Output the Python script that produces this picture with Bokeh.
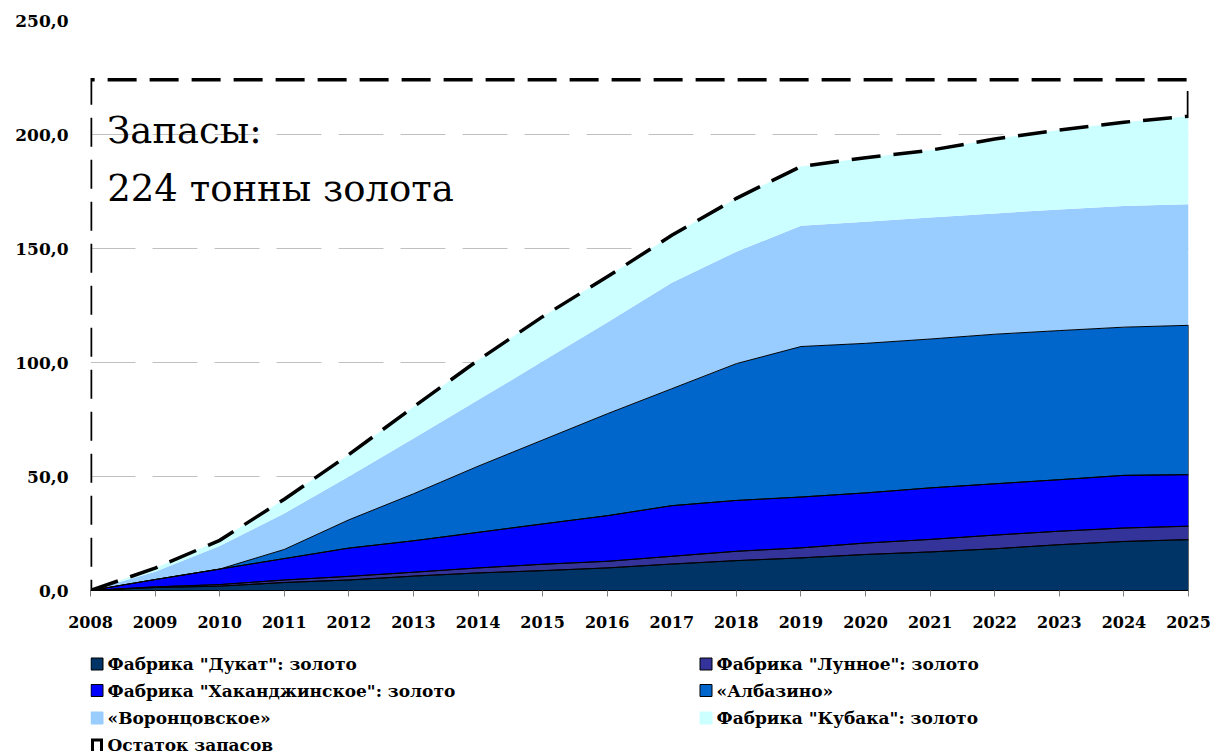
import numpy as np
from bokeh.plotting import figure
from bokeh.layouts import column
from bokeh.models import Range1d, FixedTicker, Label
from bokeh.core.properties import value
from bokeh.embed import file_html
from bokeh.resources import INLINE

# ---------------- data ----------------
years = list(range(2008, 2026))
dukat = [0, 1.3, 1.9, 3.5, 4.6, 6.3, 7.7, 8.7, 9.9, 11.6, 13.1, 14.3, 15.8, 16.9, 18.3, 20.1, 21.5, 22.3]
lunnoe = [0, 0.3, 0.7, 1.1, 1.6, 1.7, 2.2, 2.8, 2.9, 3.4, 4.1, 4.4, 5.0, 5.5, 6.0, 5.9, 5.9, 5.9]
hakanj = [0, 3.2, 6.8, 9.4, 12.4, 13.8, 15.6, 17.7, 20.0, 22.2, 22.3, 22.3, 22.0, 22.6, 22.5, 22.6, 23.1, 22.6]
albazino = [0, 0, 0, 4.0, 12.4, 20.6, 29.0, 36.8, 44.7, 51.3, 60.0, 66.0, 65.6, 65.3, 65.6, 65.4, 65.0, 65.5]
voronts = [0, 3.4, 10.1, 15.8, 19.0, 24.3, 29.0, 34.5, 40.0, 46.5, 49.1, 53.0, 53.3, 53.3, 53.0, 53.1, 53.1, 53.1]
kubaka = [0, 1.6, 2.5, 6.2, 9.6, 13.8, 17.5, 19.6, 20.1, 20.8, 23.4, 26.0, 28.1, 29.5, 32.6, 34.9, 36.8, 38.6]
reserves_total = 224

series_names = ['Фабрика "Дукат": золото', 'Фабрика "Лунное": золото',
                'Фабрика "Хаканджинское": золото', '«Албазино»',
                '«Воронцовское»', 'Фабрика "Кубака": золото']
remaining_name = 'Остаток запасов'
series_values = [dukat, lunnoe, hakanj, albazino, voronts, kubaka]
series_colors = ["#003366", "#333399", "#0000FF", "#0066CC", "#99CCFF", "#CCFFFF"]
series_border = [True, True, True, True, False, False]

y_ticks = [0, 50, 100, 150, 200, 250]
y_tick_labels = ["0,0", "50,0", "100,0", "150,0", "200,0", "250,0"]
title_lines = ["Запасы:", "224 тонны золота"]

SERIF = "DejaVu Serif"
BL, BR = 90, 24          # left / right borders shared by both figures
W = 1212

# ---------------- main chart ----------------
p = figure(width=W, height=640, output_backend="svg", toolbar_location=None,
           x_range=Range1d(years[0], years[-1]), y_range=Range1d(0, 250),
           min_border_left=BL, min_border_right=BR, min_border_top=20, min_border_bottom=50)
p.outline_line_color = None
p.background_fill_color = "white"
p.border_fill_color = "white"

cum = np.zeros(len(years))
bounds = []
for vals in series_values:
    bottom = cum.copy()
    cum = cum + np.array(vals, dtype=float)
    bounds.append((bottom, cum.copy()))

xs_poly = list(years) + list(years[::-1])
for (bottom, top), col in zip(bounds, series_colors):
    p.patch(xs_poly, list(top) + list(bottom[::-1]), fill_color=col, line_color=None)
for (bottom, top), has_border in zip(bounds, series_border):
    if has_border:
        p.patch(xs_poly, list(top) + list(bottom[::-1]), fill_color=None,
                line_color="black", line_width=1)

total = bounds[-1][1]
rem_x = list(years) + [years[-1], years[0]]
rem_y = list(total) + [reserves_total, reserves_total]
p.patch(rem_x, rem_y, fill_color=None, line_color="black", line_width=3.5,
        line_dash="29 13", line_join="miter")

# axes
p.yaxis.ticker = FixedTicker(ticks=y_ticks)
p.yaxis.major_label_overrides = {t: l for t, l in zip(y_ticks, y_tick_labels)}
p.yaxis.axis_line_color = None
p.yaxis.major_tick_line_color = None
p.yaxis.minor_tick_line_color = None
p.yaxis.major_label_standoff = 16
p.yaxis.major_label_text_font = SERIF
p.yaxis.major_label_text_font_style = "bold"
p.yaxis.major_label_text_font_size = "17px"
p.yaxis.major_label_text_color = "black"

p.xaxis.ticker = FixedTicker(ticks=years)
p.xaxis.major_label_overrides = {y: str(y) for y in years}
p.xaxis.axis_line_color = "black"
p.xaxis.axis_line_width = 1
p.xaxis.major_tick_line_color = "#808080"
p.xaxis.major_tick_in = 0
p.xaxis.major_tick_out = 6
p.xaxis.minor_tick_line_color = None
p.xaxis.major_label_standoff = 19
p.xaxis.major_label_text_font = SERIF
p.xaxis.major_label_text_font_style = "bold"
p.xaxis.major_label_text_font_size = "16px"
p.xaxis.major_label_text_color = "black"

p.xgrid.grid_line_color = None
p.ygrid.grid_line_color = "#c0c0c0"
p.ygrid.grid_line_width = 1
p.ygrid.grid_line_dash = "45 17"

# title text inside plot
p.add_layout(Label(x=2008.26, y=201.8, text=title_lines[0], text_font=SERIF,
                   text_font_size="37px", text_color="black", text_baseline="alphabetic"))
p.add_layout(Label(x=2008.26, y=176.2, text=title_lines[1], text_font=SERIF,
                   text_font_size="37px", text_color="black", text_baseline="alphabetic"))

# ---------------- legend (separate figure, x in page pixels) ----------------
LH = 114
lg = figure(width=W, height=LH, output_backend="svg", toolbar_location=None,
            x_range=Range1d(BL, W - BR), y_range=Range1d(LH, 0),
            min_border_left=BL, min_border_right=BR,
            min_border_top=0, min_border_bottom=0)
lg.axis.visible = False
lg.grid.visible = False
lg.outline_line_color = None

col_x = [90, 699]
row_y = [23.5, 50, 77.5, 104.5]
box_x, box_y, box_c, box_lc, txt_x, txt_y = [], [], [], [], [], []
for i, (name, colr, brd) in enumerate(zip(series_names, series_colors, series_border)):
    cx = col_x[i % 2]
    ry = row_y[i // 2]
    box_x.append(cx + 6.5)
    box_y.append(ry)
    box_c.append(colr)
    box_lc.append("black" if brd else colr)
    txt_x.append(cx + 17)
    txt_y.append(ry)
lg.rect(box_x, box_y, width=12, height=12, fill_color=box_c, line_color=box_lc, line_width=1)
lg.text(txt_x, txt_y, text=series_names, text_font=value(SERIF), text_font_style="bold",
        text_font_size="17px", text_baseline="middle", text_align="left", text_color="black")

# remaining reserves legend marker (open-bottom box)
rx = col_x[0]
ry = row_y[3]
lg.line([rx + 2, rx + 2, rx + 11, rx + 11], [ry + 6, ry - 5, ry - 5, ry + 6],
        line_color="black", line_width=3, line_join="miter")
lg.text([rx + 17], [ry], text=[remaining_name], text_font=value(SERIF), text_font_style="bold",
        text_font_size="17px", text_baseline="middle", text_align="left", text_color="black")

layout = column(p, lg, spacing=0)
open("out.html", "w").write(file_html(layout, INLINE))
